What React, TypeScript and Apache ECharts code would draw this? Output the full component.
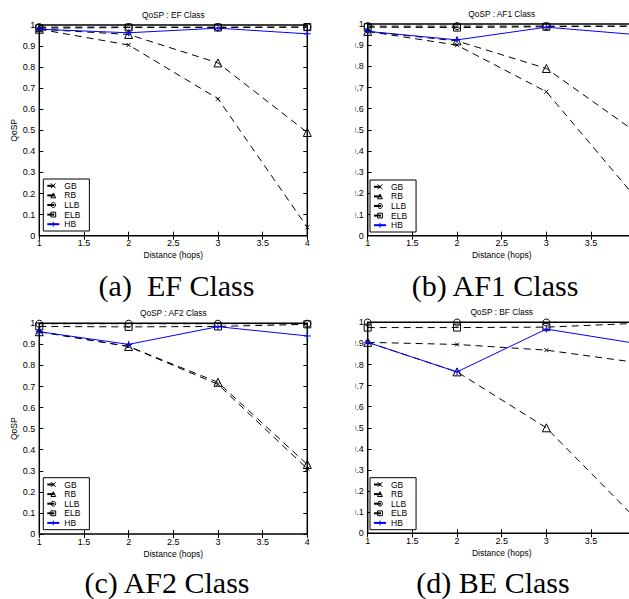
import React, { useEffect, useRef } from "react";
import * as echarts from "echarts";

const hops = [1, 2, 3, 4];
const seriesNames = ["GB", "RB", "LLB", "ELB", "HB"];
const panelTitles = ["QoSP : EF Class", "QoSP : AF1 Class", "QoSP : AF2 Class", "QoSP : BF Class"];
const captions = ["(a)  EF Class", "(b) AF1 Class", "(c) AF2 Class", "(d) BE Class"];
const xAxisName = "Distance (hops)";
const yAxisName = "QoSP";

// (a) EF class
const efGB = [0.98, 0.905, 0.65, 0.04];
const efRB = [0.98, 0.955, 0.82, 0.49];
const efLLB = [0.99, 0.99, 0.99, 0.99];
const efELB = [0.985, 0.988, 0.988, 0.99];
const efHB = [0.98, 0.963, 0.985, 0.958];

// (b) AF1 class
const af1GB = [0.965, 0.9, 0.68, 0.18];
const af1RB = [0.965, 0.92, 0.79, 0.49];
const af1LLB = [0.99, 0.99, 0.99, 0.99];
const af1ELB = [0.985, 0.983, 0.987, 0.99];
const af1HB = [0.965, 0.925, 0.985, 0.95];

// (c) AF2 class
const af2GB = [0.96, 0.89, 0.71, 0.31];
const af2RB = [0.96, 0.89, 0.72, 0.33];
const af2LLB = [0.998, 0.998, 0.998, 0.998];
const af2ELB = [0.985, 0.983, 0.985, 0.995];
const af2HB = [0.96, 0.9, 0.984, 0.94];

// (d) BE class
const beGB = [0.905, 0.895, 0.868, 0.81];
const beRB = [0.905, 0.765, 0.5, 0.07];
const beLLB = [0.999, 0.999, 0.999, 0.999];
const beELB = [0.975, 0.975, 0.977, 0.995];
const beHB = [0.905, 0.765, 0.968, 0.9];

const panelData = [
  [efGB, efRB, efLLB, efELB, efHB],
  [af1GB, af1RB, af1LLB, af1ELB, af1HB],
  [af2GB, af2RB, af2LLB, af2ELB, af2HB],
  [beGB, beRB, beLLB, beELB, beHB],
];

const layouts = [
  { left: 39.3, top: 25, width: 268, height: 210.7, legendLeft: 43.3, legendTop: 179, titleX: 173.3, titleY: 14.5, capX: 176.5, capY: 285, yName: true, cropped: false },
  { left: 367.7, top: 24, width: 268, height: 211.7, legendLeft: 370, legendTop: 180, titleX: 501.7, titleY: 14.3, capX: 495, capY: 285, yName: false, cropped: true },
  { left: 39.3, top: 323.3, width: 268, height: 210.7, legendLeft: 43.3, legendTop: 477.7, titleX: 173.3, titleY: 312.7, capX: 167, capY: 582, yName: true, cropped: false },
  { left: 367.7, top: 322.3, width: 268, height: 211, legendLeft: 370, legendTop: 477.7, titleX: 501.7, titleY: 312.3, capX: 493, capY: 582, yName: false, cropped: true },
];

const SANS = "Liberation Sans, Arial, Helvetica, sans-serif";
const SERIF = "Liberation Serif, Times New Roman, serif";
const BLUE = "#0000ff";
const xMark = "path://M0,0L10,10M10,0L0,10";
const plusMark = "path://M5,0L5,10M0,5L10,5";

const styles = [
  { symbol: xMark, size: 4, color: "#000", dashed: true },
  { symbol: "triangle", size: 8, color: "#000", dashed: true },
  { symbol: "circle", size: 7, color: "#000", dashed: true },
  { symbol: "rect", size: 7, color: "#000", dashed: true },
  { symbol: plusMark, size: 7, color: BLUE, dashed: false },
];

export default function App() {
  const ref = useRef<HTMLDivElement>(null);
  useEffect(() => {
    if (!ref.current) return;
    const chart = echarts.init(ref.current, undefined, { renderer: "svg" });

    const grid: any[] = [];
    const xAxis: any[] = [];
    const yAxis: any[] = [];
    const series: any[] = [];
    const legend: any[] = [];
    const graphic: any[] = [];

    layouts.forEach((L, p) => {
      grid.push({
        left: L.left,
        top: L.top,
        width: L.width,
        height: L.height,
        show: true,
        borderColor: "#000",
        borderWidth: 1.5,
        backgroundColor: "transparent",
        containLabel: false,
        outerBoundsMode: "none",
      });
      const tick = { show: true, inside: true, length: 4, lineStyle: { color: "#000", width: 1 } };
      xAxis.push({
        type: "value",
        gridIndex: p,
        min: 1,
        max: 4,
        interval: 0.5,
        position: "bottom",
        axisLine: { show: false },
        axisTick: tick,
        splitLine: { show: false },
        axisLabel: { fontSize: 9, color: "#000", margin: 3, fontFamily: SANS, showMaxLabel: !L.cropped },
        name: xAxisName,
        nameLocation: "middle",
        nameGap: 15,
        nameTextStyle: { fontSize: 8.5, color: "#000", fontFamily: SANS },
      });
      xAxis.push({
        type: "value",
        gridIndex: p,
        min: 1,
        max: 4,
        interval: 0.5,
        position: "top",
        axisLine: { show: false },
        axisTick: tick,
        splitLine: { show: false },
        axisLabel: { show: false },
      });
      yAxis.push({
        type: "value",
        gridIndex: p,
        min: 0,
        max: 1,
        interval: 0.1,
        position: "left",
        axisLine: { show: false },
        axisTick: tick,
        splitLine: { show: false },
        axisLabel: { fontSize: 9, color: "#000", margin: 4, fontFamily: SANS },
        name: L.yName ? yAxisName : "",
        nameLocation: "middle",
        nameGap: 20,
        nameTextStyle: { fontSize: 8.5, color: "#000", fontFamily: SANS },
      });
      yAxis.push({
        type: "value",
        gridIndex: p,
        min: 0,
        max: 1,
        interval: 0.1,
        position: "right",
        axisLine: { show: false },
        axisTick: tick,
        splitLine: { show: false },
        axisLabel: { show: false },
      });

      panelData[p].forEach((vals, s) => {
        const st = styles[s];
        series.push({
          type: "line",
          name: seriesNames[s],
          xAxisIndex: 2 * p,
          yAxisIndex: 2 * p,
          data: hops.map((h, i) => [h, vals[i]]),
          symbol: st.symbol,
          symbolSize: st.size,
          showAllSymbol: true,
          lineStyle: { color: st.color, width: 1, type: st.dashed ? [7, 5] : "solid" },
          itemStyle: { color: "rgba(255,255,255,0)", borderColor: st.color, borderWidth: 1 },
          emphasis: { disabled: true },
          z: s === 4 ? 4 : 3,
        });
      });

      legend.push({
        data: seriesNames,
        orient: "vertical",
        left: L.legendLeft,
        top: L.legendTop,
        itemWidth: 12,
        itemHeight: 6,
        itemGap: 0,
        padding: [2, 9, 2, 3],
        borderColor: "#000",
        borderWidth: 1,
        backgroundColor: "#fff",
        selectedMode: false,
        itemStyle: { color: "rgba(255,255,255,0)", borderWidth: 1 },
        textStyle: { fontSize: 8.5, color: "#000", fontFamily: SANS, lineHeight: 9.6 },
        z: 10,
      });

      graphic.push({
        type: "text",
        x: L.titleX,
        y: L.titleY,
        style: {
          text: panelTitles[p],
          fontSize: 8.3,
          fontFamily: SANS,
          fill: "#000",
          textAlign: "center",
          textVerticalAlign: "middle",
        },
        z: 20,
      });
      graphic.push({
        type: "text",
        x: L.capX,
        y: L.capY,
        style: {
          text: captions[p],
          fontSize: 30,
          fontFamily: SERIF,
          fill: "#000",
          textAlign: "center",
          textVerticalAlign: "middle",
        },
        z: 20,
      });
    });

    // the right-hand sub-figures are cropped on their left side
    graphic.push({ type: "rect", shape: { x: 313, y: 0, width: 42.5, height: 262 }, style: { fill: "#fff" }, z: 100 });
    graphic.push({ type: "rect", shape: { x: 313, y: 300, width: 42.5, height: 262 }, style: { fill: "#fff" }, z: 100 });

    chart.setOption({
      animation: false,
      backgroundColor: "#fff",
      grid,
      xAxis,
      yAxis,
      series,
      legend,
      graphic,
    });
    return () => chart.dispose();
  }, []);

  return (
    <div
      ref={ref}
      style={{ position: "absolute", left: 0, top: 0, width: 629, height: 599, background: "#fff" }}
    />
  );
}
